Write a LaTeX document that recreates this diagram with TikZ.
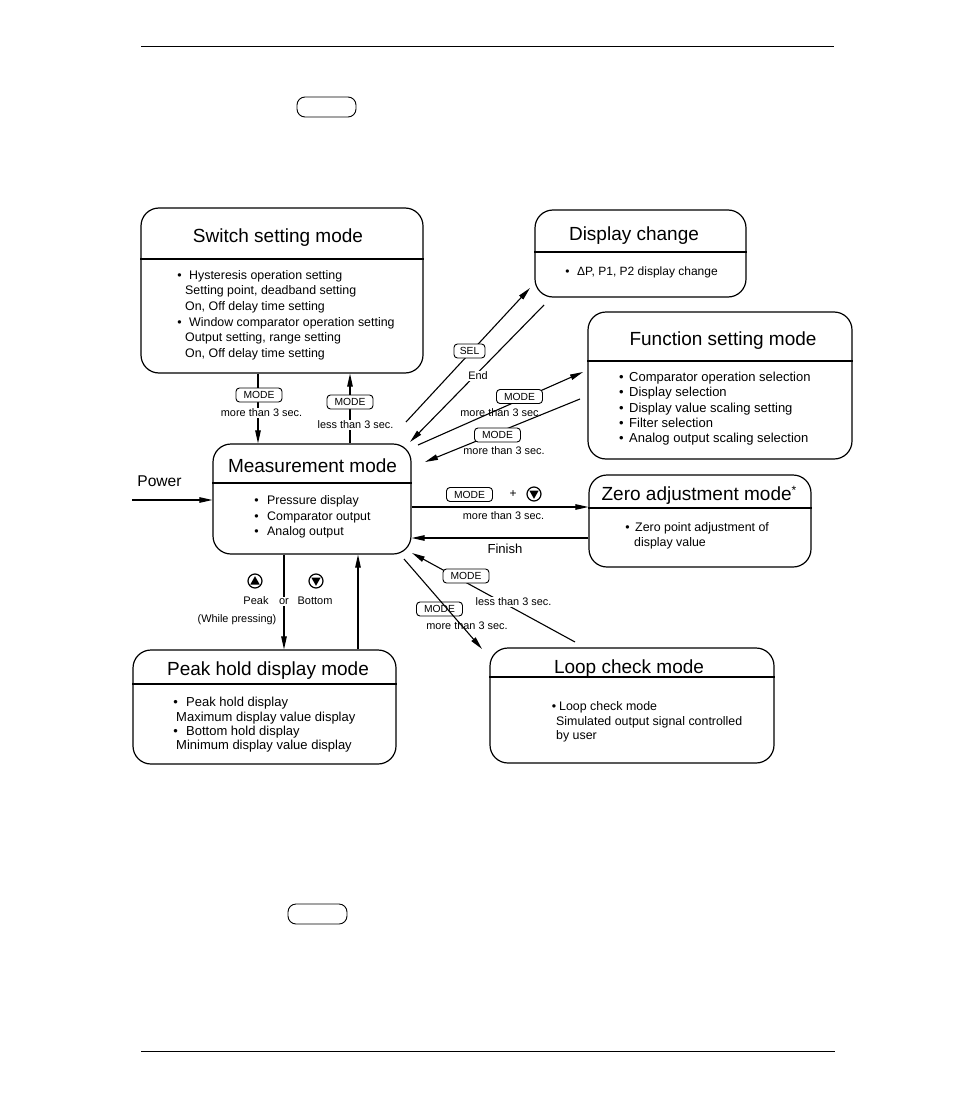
\documentclass[tikz,border=0pt]{standalone}
\usepackage{fontspec}
\setmainfont{Liberation Sans}
\usetikzlibrary{arrows.meta}
\newcommand\mybul[1]{\llap{•\hspace{#1pt}}}
\begin{document}
\begin{tikzpicture}[x=1pt,y=-1pt,
  mbox/.style={draw, line width=1.2pt, rounded corners=18pt, inner sep=0pt},
  ttl/.style={font=\fontsize{19}{22}\selectfont, inner sep=0pt, text height=13.5pt, text depth=0pt},
  bodyl/.style={font=\fontsize{12.4}{15}\selectfont, inner sep=0pt, anchor=west, text height=8.8pt, text depth=0pt},
  bodyb/.style={bodyl, font=\fontsize{13}{15}\selectfont},
  lbl/.style={font=\fontsize{10.9}{13}\selectfont, inner sep=0.6pt, text height=7.8pt, text depth=0pt},
  wlbl/.style={lbl, fill=white, inner sep=1.5pt},
  key/.style={draw, line width=0.9pt, rounded corners=3.5pt, fill=white, minimum width=46pt, minimum height=14pt, inner sep=0pt, font=\fontsize{10.3}{12}\selectfont},
  conn/.style={line width=1.1pt, -{Triangle[length=13pt,width=5.5pt]}},
  rule/.style={line width=1pt},
  divl/.style={line width=1.2pt},
  btn/.style={line width=1.2pt}
]
\useasboundingbox (0,0) rectangle (954,1097);

% page rules and empty key frames
\draw[rule] (141,47) -- (834,47);
\draw[rule] (141,1051) -- (835,1051);
\draw[line width=0.9pt, rounded corners=8pt] (297,97) rectangle (356,117);
\draw[line width=0.9pt, rounded corners=8pt] (288,904) rectangle (347,924);

% ---------- boxes ----------
\node[mbox, minimum width=282pt, minimum height=165pt] (sw) at (282,290.5) {};
\draw[divl] (sw.west |- 0,259) -- (sw.east |- 0,259);
\node[ttl] (sw-t) at (278,236) {Switch setting mode};
\foreach \xx/\yy/\tx [count=\i] in {
  189/275/{\mybul{7.6}Hysteresis operation setting},
  185/290.5/{Setting point, deadband setting},
  185/306/{On, Off delay time setting},
  189/322/{\mybul{7.6}Window comparator operation setting},
  185/337.5/{Output setting, range setting},
  185/353/{On, Off delay time setting}}
  \node[bodyl] (sw-l\i) at (\xx,\yy) {\tx};

\node[mbox, minimum width=211pt, minimum height=87pt] (disp) at (640.5,253.5) {};
\draw[divl] (disp.west |- 0,252) -- (disp.east |- 0,252);
\node[ttl] (disp-t) at (634,234) {Display change};
\node[bodyl, font=\fontsize{12}{15}\selectfont] (disp-l1) at (577,271.5) {\mybul{7.6}ΔP, P1, P2 display change};

\node[mbox, minimum width=264pt, minimum height=147pt] (func) at (720,385.5) {};
\draw[divl] (func.west |- 0,361) -- (func.east |- 0,361);
\node[ttl] (func-t) at (723,339) {Function setting mode};
\foreach \yy/\tx [count=\i] in {
  377/{Comparator operation selection},
  392.5/{Display selection},
  408/{Display value scaling setting},
  423/{Filter selection},
  438.5/{Analog output scaling selection}}
  \node[bodyb] (func-l\i) at (629,\yy) {\mybul{5.6}\tx};

\node[mbox, minimum width=198pt, minimum height=110pt] (meas) at (312,499) {};
\draw[divl] (meas.west |- 0,483) -- (meas.east |- 0,483);
\node[ttl] (meas-t) at (312.5,466) {Measurement mode};
\foreach \yy/\tx [count=\i] in {
  500/{Pressure display},
  516/{Comparator output},
  531/{Analog output}}
  \node[bodyl] (meas-l\i) at (267,\yy) {\mybul{8.6}\tx};

\node[mbox, minimum width=222pt, minimum height=92pt] (zero) at (700,521) {};
\draw[divl] (zero.west |- 0,508) -- (zero.east |- 0,508);
\node[ttl] (zero-t) at (699,494) {Zero adjustment mode\raisebox{6pt}{\fontsize{12}{12}\selectfont *}};
\node[bodyl] (zero-l1) at (635,527) {\mybul{5.6}Zero point adjustment of};
\node[bodyl] (zero-l2) at (634,542) {display value};

\node[mbox, minimum width=263pt, minimum height=114pt] (peak) at (264.5,707) {};
\draw[divl] (peak.west |- 0,684) -- (peak.east |- 0,684);
\node[ttl] (peak-t) at (268,669) {Peak hold display mode};
\foreach \xx/\yy/\tx [count=\i] in {
  186/702/{\mybul{8.3}Peak hold display},
  176/717/{Maximum display value display},
  186/731/{\mybul{8.3}Bottom hold display},
  176/745.5/{Minimum display value display}}
  \node[bodyb] (peak-l\i) at (\xx,\yy) {\tx};

\node[mbox, minimum width=284pt, minimum height=115pt] (loop) at (632,705.5) {};
\draw[divl] (loop.west |- 0,677) -- (loop.east |- 0,677);
\node[ttl] (loop-t) at (629,667) {Loop check mode};
\foreach \xx/\yy/\tx [count=\i] in {
  559/706/{\mybul{3}Loop check mode},
  556/721/{Simulated output signal controlled},
  556/735/{by user}}
  \node[bodyl] (loop-l\i) at (\xx,\yy) {\tx};

% ---------- connectors ----------
% Power
\coordinate (pw) at (132,500);
\node[font=\fontsize{15.6}{18}\selectfont, inner sep=0pt] (pw-t) at (159.5,481) {Power};
\draw[conn] (pw) -- (pw -| meas.west);

% switch <-> measurement
\draw[conn] (sw.south -| 258,0) -- (meas.north -| 258,0);
\node[key] (k1) at (259,395) {MODE};
\node[wlbl] (k1-t) at (261.5,413) {more than 3 sec.};
\draw[conn] (meas.north -| 350,0) -- (sw.south -| 350,0);
\node[key] (k2) at (350,402) {MODE};
\node[wlbl] (k2-t) at (355.5,425) {less than 3 sec.};

% measurement <-> display change
\coordinate (selA) at (406,422);
\coordinate (selB) at (530,288);
\draw[conn] (selA) -- (selB);
\node[key, minimum width=31pt] (k3) at (469.5,351) {SEL};
\coordinate (endA) at (544,305);
\coordinate (endB) at (410,442);
\draw[conn] (endA) -- (endB);
\node[wlbl] (k3-t) at (478,376) {End};

% measurement <-> function setting
\coordinate (fnA) at (418,445);
\coordinate (fnB) at (583,372);
\draw[conn] (fnA) -- (fnB);
\node[key] (k4) at (519.5,396.5) {MODE};
\node[lbl] (k4-t) at (501,413) {more than 3 sec.};
\coordinate (fbA) at (580,399);
\coordinate (fbB) at (425,462);
\draw[conn] (fbA) -- (fbB);
\node[key] (k5) at (497.5,435) {MODE};
\node[lbl] (k5-t) at (504,451) {more than 3 sec.};

% measurement <-> zero adjustment
\draw[conn] (meas.east |- 0,507) -- (zero.west |- 0,507);
\node[key] (k6) at (469.5,494.5) {MODE};
\node[lbl, font=\fontsize{12}{13}\selectfont] (k6-p) at (513,494) {+};
\draw[btn] (534,494) circle[radius=7pt];
\fill (529.3,490.5) -- (538.7,490.5) -- (534,498.8) -- cycle;
\node[lbl] (k6-t) at (503.5,515.5) {more than 3 sec.};
\draw[conn] (zero.west |- 0,538) -- (meas.east |- 0,538);
\node[font=\fontsize{13.1}{15}\selectfont, inner sep=0pt] (k7-t) at (505,549) {Finish};

% loop check <-> measurement
\coordinate (lpA) at (575,642);
\coordinate (lpB) at (412,553);
\draw[conn] (lpA) -- (lpB);
\node[key] (k8) at (466,576) {MODE};
\node[wlbl] (k8-t) at (513.5,602) {less than 3 sec.};
\coordinate (lmA) at (404,559);
\coordinate (lmB) at (482,649);
\node[key] (k9) at (439.5,609) {MODE};
\node[lbl] (k9-t) at (467,626) {more than 3 sec.};
\draw[conn] (lmA) -- (lmB);

% measurement <-> peak hold
\draw[conn] (meas.south -| 284,0) -- (peak.north -| 284,0);
\draw[conn] (peak.north -| 358,0) -- (meas.south -| 358,0);
\draw[btn] (255,581) circle[radius=7pt];
\fill (250.3,584.5) -- (259.7,584.5) -- (255,576.2) -- cycle;
\draw[btn] (316,581) circle[radius=7pt];
\fill (311.3,577.5) -- (320.7,577.5) -- (316,585.8) -- cycle;
\node[lbl, font=\fontsize{11}{13}\selectfont] (pk-t) at (256,601) {Peak};
\node[lbl, font=\fontsize{11}{13}\selectfont, fill=white] (or-t) at (284,601) {or};
\node[lbl, font=\fontsize{11}{13}\selectfont] (bt-t) at (315,601) {Bottom};
\node[lbl] (wp-t) at (237,619) {(While pressing)};
\end{tikzpicture}
\end{document}
